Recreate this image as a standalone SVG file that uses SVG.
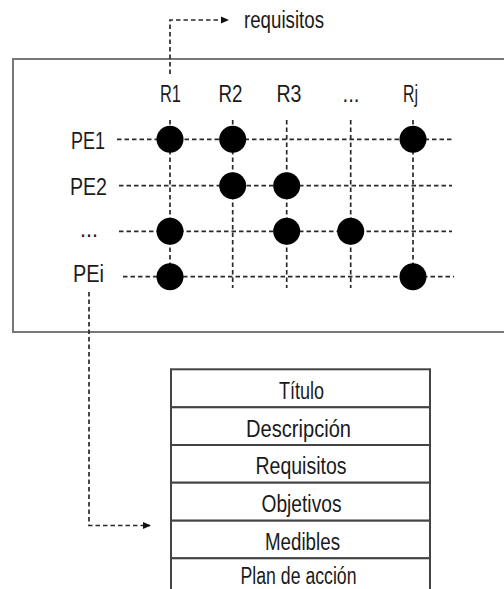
<svg xmlns="http://www.w3.org/2000/svg" width="504" height="589" viewBox="0 0 504 589">
  <style>
    .lbl { font-family: "Liberation Sans", Arial, sans-serif; font-size: 23px; fill: #1a1a1a; }
    .mid { text-anchor: middle; }
    .grid { stroke: #2a2a2a; stroke-width: 1.7; stroke-dasharray: 4.5 3; fill: none; }
    .frame { fill: none; stroke: #777; stroke-width: 2; }
    .cell { fill: #fff; stroke: #444; stroke-width: 2; }
    .dot { fill: #000; }
  </style>
  <defs>
    <marker id="tip" viewBox="0 0 8 8" refX="7" refY="4" markerWidth="8" markerHeight="8" markerUnits="userSpaceOnUse" orient="auto">
      <path d="M0,0.5 L8,4 L0,7.5 Z" fill="#111"/>
    </marker>
  </defs>
  <rect width="504" height="589" fill="#fff"/>

  <!-- matrix frame -->
  <g id="matrix">
    <rect class="frame" x="13" y="59" width="500" height="273"/>
  </g>

  <!-- connectors -->
  <g id="connectors">
    <path class="grid" d="M170,74 V20 H228" marker-end="url(#tip)"/>
    <path class="grid" d="M89,292 V525.5 H150" marker-end="url(#tip)"/>
  </g>

  <!-- grid lines -->
  <g id="grid">
    <line class="grid" x1="170" y1="120" x2="170" y2="288"/>
    <line class="grid" x1="232.7" y1="120" x2="232.7" y2="288"/>
    <line class="grid" x1="286.7" y1="120" x2="286.7" y2="288"/>
    <line class="grid" x1="350.7" y1="120" x2="350.7" y2="288"/>
    <line class="grid" x1="413" y1="120" x2="413" y2="288"/>
    <line class="grid" x1="117" y1="139.3" x2="452" y2="139.3"/>
    <line class="grid" x1="119" y1="185.7" x2="452" y2="185.7"/>
    <line class="grid" x1="119" y1="231.3" x2="452" y2="231.3"/>
    <line class="grid" x1="123" y1="276.7" x2="454" y2="276.7"/>
  </g>

  <!-- labels -->
  <g id="req-label">
    <text class="lbl" x="244" y="28" font-size="20" textLength="80" lengthAdjust="spacingAndGlyphs">requisitos</text>
  </g>
  <g id="col-labels">
    <text class="lbl mid" x="170.5" y="102" textLength="21" lengthAdjust="spacingAndGlyphs">R1</text>
    <text class="lbl mid" x="230.5" y="102" textLength="24" lengthAdjust="spacingAndGlyphs">R2</text>
    <text class="lbl mid" x="289" y="102" textLength="25" lengthAdjust="spacingAndGlyphs">R3</text>
    <text class="lbl mid" x="351" y="102" textLength="17" lengthAdjust="spacingAndGlyphs">...</text>
    <text class="lbl mid" x="410.5" y="102" textLength="15" lengthAdjust="spacingAndGlyphs">Rj</text>
  </g>
  <g id="row-labels">
    <text class="lbl" x="71" y="148.5" textLength="34" lengthAdjust="spacingAndGlyphs">PE1</text>
    <text class="lbl" x="70" y="194.5" textLength="37" lengthAdjust="spacingAndGlyphs">PE2</text>
    <text class="lbl" x="80" y="237" textLength="18" lengthAdjust="spacingAndGlyphs">...</text>
    <text class="lbl" x="73" y="282" textLength="31" lengthAdjust="spacingAndGlyphs">PEi</text>
  </g>

  <!-- matrix marks -->
  <g id="marks">
    <circle class="dot" cx="170" cy="139.3" r="13.5"/>
    <circle class="dot" cx="232.7" cy="139.3" r="13.5"/>
    <circle class="dot" cx="413" cy="139.3" r="13.5"/>
    <circle class="dot" cx="232.7" cy="185.7" r="13.5"/>
    <circle class="dot" cx="286.7" cy="185.7" r="13.5"/>
    <circle class="dot" cx="170" cy="231.3" r="13.5"/>
    <circle class="dot" cx="286.7" cy="231.3" r="13.5"/>
    <circle class="dot" cx="350.7" cy="231.3" r="13.5"/>
    <circle class="dot" cx="170" cy="276.7" r="13.5"/>
    <circle class="dot" cx="413" cy="276.7" r="13.5"/>
  </g>

  <!-- record card -->
  <g id="card">
    <rect class="cell" x="171" y="369.3" width="259" height="38"/>
    <rect class="cell" x="171" y="407.3" width="259" height="37.7"/>
    <rect class="cell" x="171" y="445" width="259" height="37.7"/>
    <rect class="cell" x="171" y="482.7" width="259" height="38"/>
    <rect class="cell" x="171" y="520.7" width="259" height="37.6"/>
    <rect class="cell" x="171" y="558.3" width="259" height="40"/>
    <text class="lbl mid" x="301.5" y="398.5" textLength="45" lengthAdjust="spacingAndGlyphs">Título</text>
    <text class="lbl mid" x="298.5" y="436.5" textLength="105" lengthAdjust="spacingAndGlyphs">Descripción</text>
    <text class="lbl mid" x="301" y="474" textLength="91" lengthAdjust="spacingAndGlyphs">Requisitos</text>
    <text class="lbl mid" x="301.5" y="512" textLength="80" lengthAdjust="spacingAndGlyphs">Objetivos</text>
    <text class="lbl mid" x="302.5" y="550" textLength="75" lengthAdjust="spacingAndGlyphs">Medibles</text>
    <text class="lbl mid" x="298.5" y="584" textLength="116" lengthAdjust="spacingAndGlyphs">Plan de acción</text>
  </g>
</svg>
